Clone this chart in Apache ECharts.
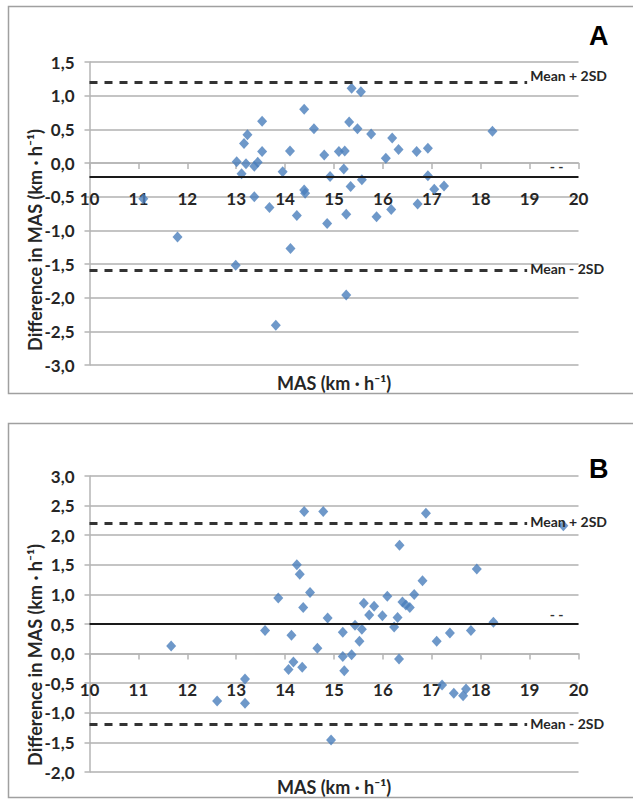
<!DOCTYPE html>
<html>
<head>
<meta charset="utf-8">
<script src="https://cdn.jsdelivr.net/npm/echarts@6/dist/echarts.min.js"></script>
<style>
html,body{margin:0;padding:0;background:#fff;}
#c{width:633px;height:800px;}
</style>
</head>
<body>
<div id="c"></div>
<script>
// ---- Panel A data ----
const aX = [11.10,11.80,12.99,13.01,13.11,13.16,13.23,13.20,13.37,13.44,13.53,13.53,13.37,13.68,13.81,13.95,14.10,14.11,14.24,14.39,14.59,14.39,14.41,14.80,14.86,14.92,15.10,15.22,15.20,15.25,15.25,15.31,15.34,15.36,15.48,15.55,15.57,15.76,15.87,16.06,16.17,16.19,16.32,16.69,16.71,16.92,16.92,17.05,17.25,18.24];
const aY = [-0.53,-1.10,-1.52,0.02,-0.16,0.29,0.42,-0.01,-0.05,0.01,0.62,0.17,-0.50,-0.66,-2.41,-0.13,0.18,-1.27,-0.78,0.80,0.51,-0.40,-0.45,0.12,-0.90,-0.20,0.17,0.18,-0.09,-0.76,-1.96,0.61,-0.35,1.11,0.51,1.06,-0.25,0.43,-0.80,0.07,-0.69,0.37,0.20,0.17,-0.61,0.22,-0.19,-0.39,-0.34,0.47];
const aLines = [-0.2, 1.2, -1.6]; // mean, mean+2SD, mean-2SD

// ---- Panel B data ----
const bX = [14.39,14.78,16.88,19.69,16.34,17.92,14.24,14.30,16.81,14.51,16.64,16.09,13.86,15.61,16.40,16.47,15.82,16.55,14.37,15.72,15.99,16.30,14.87,18.26,15.43,16.23,15.57,13.59,17.80,15.18,17.37,14.13,15.52,17.10,11.67,14.66,15.18,15.36,16.33,14.17,14.35,14.07,15.21,13.18,17.21,17.70,17.45,17.64,12.61,13.18,14.94];
const bY = [2.40,2.40,2.37,2.16,1.83,1.43,1.50,1.34,1.23,1.03,1.00,0.97,0.94,0.85,0.87,0.82,0.80,0.78,0.78,0.65,0.64,0.61,0.60,0.53,0.48,0.45,0.41,0.39,0.39,0.36,0.35,0.31,0.21,0.21,0.13,0.09,-0.05,-0.02,-0.09,-0.14,-0.23,-0.27,-0.29,-0.43,-0.53,-0.60,-0.67,-0.71,-0.80,-0.84,-1.46];
const bLines = [0.5, 2.2, -1.2];

// ---- axes ----
const xRange = [10, 20, 1];
const aYRange = [-3, 1.5, 0.5];
const bYRange = [-2, 3, 0.5];
const dashEnd = 18.95;
const panelLetters = ['A', 'B'];
const lineLabels = ['Mean + 2SD', 'Mean - 2SD'];
const xTitle = 'MAS (km · h⁻¹)';
const yTitle = 'Difference in MAS (km · h⁻¹)';

const zip = (xs, ys) => xs.map((x, i) => [x, ys[i]]);
const fmt = v => v.toFixed(1).replace('.', ',');
const FONT = 'Lato, "Open Sans", sans-serif';
const grey = '#c4c4c4';
const blue = '#4A7EBB';

const grids = [
  { left: 89.5, top: 62, width: 489, height: 303 },
  { left: 89.5, top: 476, width: 489, height: 296 }
];

// x axis drawn where y = 0 (offset up from the bottom of the plot)
function xAxis(gi, yr) {
  const off = -(0 - yr[0]) / (yr[1] - yr[0]) * grids[gi].height;
  return {
    type: 'value', gridIndex: gi, min: xRange[0], max: xRange[1], interval: xRange[2],
    position: 'bottom', offset: off,
    axisLine: { onZero: false, lineStyle: { color: '#b5b5b5', width: 1.5 } },
    axisTick: { show: true, length: 6, lineStyle: { color: '#b5b5b5', width: 1.5 } },
    axisLabel: { margin: 27, color: '#262626', fontFamily: FONT, fontSize: 17, fontWeight: 'bold' },
    splitLine: { show: false }
  };
}
function yAxis(gi, r) {
  return {
    type: 'value', gridIndex: gi, min: r[0], max: r[1], interval: r[2],
    axisLine: { show: true, onZero: false, lineStyle: { color: '#b5b5b5', width: 1.5 } },
    axisTick: { show: true, length: 5, lineStyle: { color: '#b5b5b5', width: 1.5 } },
    axisLabel: { margin: 15, color: '#262626', fontFamily: FONT, fontSize: 17, fontWeight: 'bold', formatter: fmt },
    splitLine: { show: true, lineStyle: { color: grey, width: 2 } }
  };
}
function markLines(vals, offs) {
  const lbl = (txt, off) => ({ show: true, position: 'end', distance: 3, formatter: txt, offset: off,
    color: '#262626', fontFamily: FONT, fontSize: 14, fontWeight: 'bold' });
  const dash = { type: [8, 7], color: '#333', width: 3 };
  return {
    symbol: 'none', silent: true, animation: false,
    data: [
      [{ coord: [xRange[0], vals[0]], lineStyle: { type: 'solid', color: '#1a1a1a', width: 2 },
         label: { show: true, position: 'insideEndTop', formatter: '- -', distance: 3, offset: [-12, 0],
           color: '#333', fontFamily: FONT, fontSize: 14, fontWeight: 'bold' } },
       { coord: [xRange[1], vals[0]] }],
      [{ coord: [xRange[0], vals[1]], lineStyle: dash, label: lbl(lineLabels[0], offs[0]) }, { coord: [dashEnd, vals[1]] }],
      [{ coord: [xRange[0], vals[2]], lineStyle: dash, label: lbl(lineLabels[1], offs[1]) }, { coord: [dashEnd, vals[2]] }]
    ]
  };
}

const chart = echarts.init(document.getElementById('c'), null, { renderer: 'svg' });
chart.setOption({
  animation: false,
  backgroundColor: '#fff',
  grid: grids,
  xAxis: [xAxis(0, aYRange), xAxis(1, bYRange)],
  yAxis: [yAxis(0, aYRange), yAxis(1, bYRange)],
  series: [
    { type: 'scatter', xAxisIndex: 0, yAxisIndex: 0, symbol: 'diamond', symbolSize: [10, 11],
      itemStyle: { color: blue }, data: zip(aX, aY), markLine: markLines(aLines, [[0, -7], [0, -2]]) },
    { type: 'scatter', xAxisIndex: 1, yAxisIndex: 1, symbol: 'diamond', symbolSize: [10, 11],
      itemStyle: { color: blue }, data: zip(bX, bY), markLine: markLines(bLines, [[0, -2], [0, -1]]) }
  ],
  graphic: [
    { type: 'rect', shape: { x: 8.5, y: 6.5, width: 640, height: 387 }, style: { fill: 'none', stroke: '#a0a0a0', lineWidth: 1.5 }, z: -1 },
    { type: 'rect', shape: { x: 8.5, y: 423.5, width: 640, height: 374 }, style: { fill: 'none', stroke: '#a0a0a0', lineWidth: 1.5 }, z: -1 },
    { type: 'text', left: 589, top: 22, style: { text: panelLetters[0], font: 'bold 27px "Liberation Sans", Arial, sans-serif', fill: '#000' } },
    { type: 'text', left: 589, top: 455, style: { text: panelLetters[1], font: 'bold 27px "Liberation Sans", Arial, sans-serif', fill: '#000' } },
    { type: 'text', x: 334, y: 383, style: { text: xTitle, font: 'bold 18px Lato, sans-serif', fill: '#262626', textAlign: 'center', textVerticalAlign: 'middle' } },
    { type: 'text', x: 334, y: 787, style: { text: xTitle, font: 'bold 18px Lato, sans-serif', fill: '#262626', textAlign: 'center', textVerticalAlign: 'middle' } },
    { type: 'text', x: 35, y: 240, rotation: Math.PI / 2, style: { text: yTitle, font: 'bold 18px Lato, sans-serif', fill: '#262626', textAlign: 'center', textVerticalAlign: 'middle' } },
    { type: 'text', x: 35, y: 655, rotation: Math.PI / 2, style: { text: yTitle, font: 'bold 18px Lato, sans-serif', fill: '#262626', textAlign: 'center', textVerticalAlign: 'middle' } }
  ]
});
</script>
</body>
</html>
